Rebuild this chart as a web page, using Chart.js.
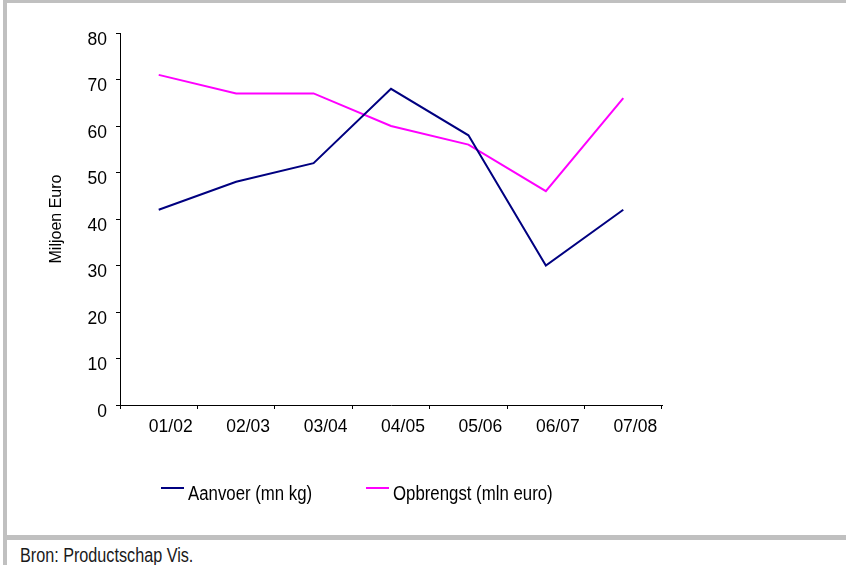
<!DOCTYPE html>
<html>
<head>
<meta charset="utf-8">
<script src="https://cdn.jsdelivr.net/npm/chart.js@4.4.1/dist/chart.umd.min.js"></script>
<style>
body { margin:0; background:#fff; overflow:hidden; width:846px; height:565px; position:relative; }
#frame { position:absolute; left:3px; top:0; width:900px; height:540px; box-sizing:border-box;
  border-left:4px solid #c0c0c0; border-top:3px solid #c0c0c0; border-bottom:5px solid #c0c0c0; }
#foot { position:absolute; left:3px; top:540px; width:20px; height:25px; border-left:4px solid #c0c0c0; }
#grafico { position:absolute; left:0; top:0; }
.leg { position:absolute; top:483px; font:20px 'Liberation Sans', Arial, sans-serif; line-height:20px; color:#000; white-space:nowrap; }
.leg i { position:absolute; left:-27px; top:4px; width:23px; height:2px; }
.leg span { display:inline-block; transform:scaleX(0.84); transform-origin:0 0; }
#bron { position:absolute; left:20px; top:545px; font:19.5px 'Liberation Sans', Arial, sans-serif; line-height:20px; color:#1a1a1a; white-space:nowrap;
  transform:scaleX(0.83); transform-origin:0 0; }
</style>
</head>
<body>
<div id="frame"></div>
<div id="foot"></div>
<canvas id="grafico" width="846" height="535"></canvas>
<div id="legenda"></div>
<div id="bron">Bron: Productschap Vis.</div>
<script>
var seizoenen = ["01/02", "02/03", "03/04", "04/05", "05/06", "06/07", "07/08"];
var aanvoer = [42, 48, 52, 68, 58, 30, 42];
var opbrengst = [71, 67, 67, 60, 56, 46, 66];
var reeksNamen = ["Aanvoer (mn kg)", "Opbrengst (mln euro)"];
var reeksKleuren = ["#000080", "#ff00ff"];
var yMin = 0, yMax = 80, yStap = 10;

function grafAanvoer(){
    var ctx = document.getElementById('grafico').getContext("2d");
    var data = {
        labels: seizoenen,
        datasets: [
            { label: reeksNamen[0], data: aanvoer, borderColor: reeksKleuren[0] },
            { label: reeksNamen[1], data: opbrengst, borderColor: reeksKleuren[1] }
        ]
    };
    var tickFont = { family: "'Liberation Sans', Arial, sans-serif", size: 17.5 };
    new Chart(ctx, {
        type: 'line',
        data: data,
        options: {
            responsive: false,
            animation: false,
            devicePixelRatio: 1,
            layout: { padding: { left: 0, top: 33, right: 184, bottom: 70 } },
            elements: {
                line: { borderWidth: 2, tension: 0, fill: false },
                point: { radius: 0, hoverRadius: 0 }
            },
            plugins: { legend: { display: false }, tooltip: { enabled: false } },
            scales: {
                x: {
                    offset: true,
                    grid: { drawOnChartArea: false, drawTicks: true, tickLength: 4, color: '#000', offset: true },
                    border: { color: '#000', width: 1 },
                    ticks: { font: tickFont, color: '#000', padding: 8, labelOffset: 12, maxRotation: 0, autoSkip: false },
                    afterFit: function (s) { s.height = 60; }
                },
                y: {
                    min: yMin, max: yMax,
                    grid: { drawOnChartArea: false, drawTicks: true, tickLength: 4, color: '#000' },
                    border: { color: '#000', width: 1 },
                    ticks: { stepSize: yStap, font: tickFont, color: '#000', padding: 9, labelOffset: 7 },
                    title: { display: true, text: 'Miljoen Euro', color: '#000',
                        font: { family: "'Liberation Sans', Arial, sans-serif", size: 16 },
                        padding: { top: 47, bottom: 0 } },
                    afterFit: function (s) { s.width = 120; }
                }
            }
        }
    });

    // legenda als tekst onder de grafiek
    var links = [188, 393];
    var leg = document.getElementById('legenda');
    data.datasets.forEach(function (d, i) {
        var el = document.createElement('div');
        el.className = 'leg';
        el.style.left = links[i] + 'px';
        el.innerHTML = '<i style="background:' + d.borderColor + '"></i><span>' + d.label + '</span>';
        leg.appendChild(el);
    });
}

grafAanvoer();
</script>
</body>
</html>
